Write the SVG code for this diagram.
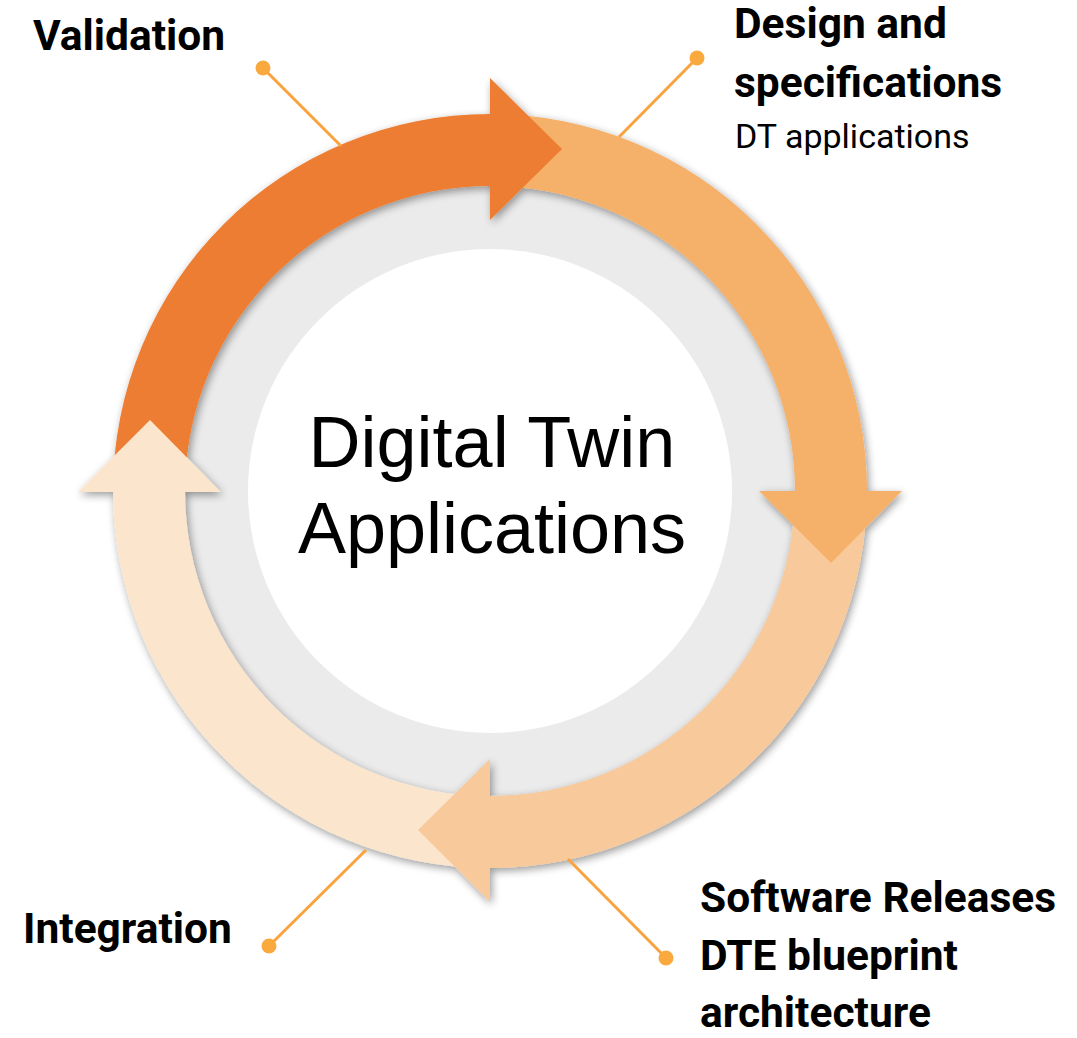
<svg xmlns="http://www.w3.org/2000/svg" width="1077" height="1038" viewBox="0 0 1077 1038">
  <defs>
    <filter id="ringShadow" x="-20%" y="-20%" width="140%" height="140%">
      <feGaussianBlur in="SourceAlpha" stdDeviation="4"/>
      <feOffset dx="2" dy="3" result="b"/>
      <feComponentTransfer><feFuncA type="linear" slope="0.4"/></feComponentTransfer>
      <feMerge><feMergeNode/><feMergeNode in="SourceGraphic"/></feMerge>
    </filter>
  </defs>
  <style>
    .lbl { font-family: Roboto, "Liberation Sans", sans-serif; font-weight: 700; font-size: 42.5px; fill: #000; }
    .sub { font-family: Roboto, "Liberation Sans", sans-serif; font-weight: 400; font-size: 34px; fill: #000; }
    .core { font-family: "Liberation Sans", Arial, sans-serif; font-size: 72px; fill: #000; }
    .lead { stroke: #FAA33E; stroke-width: 3; fill: none; }
    .dot { fill: #FAA93F; }
    .s1 { fill: #ED7D31; }
    .s2 { fill: #F5B16B; }
    .s3 { fill: #F8C99A; }
    .s4 { fill: #FBE5CD; }
  </style>

  <rect width="1077" height="1038" fill="#fff"/>

  <!-- hub -->
  <g id="hub">
    <circle cx="490" cy="491" r="310" fill="#EBEBEB"/>
    <circle cx="490" cy="491" r="242" fill="#fff"/>
    <text class="core" x="492" y="467" text-anchor="middle">Digital Twin</text>
    <text class="core" x="492" y="553" text-anchor="middle">Applications</text>
  </g>

  <!-- cycle ring: arc bodies first, then arrowheads on top -->
  <g id="cycle" filter="url(#ringShadow)">
    <path class="s1" d="M113,491 A377,377 0 0 1 490,114 L490,186 A305,305 0 0 0 185,491 Z"/>
    <path class="s2" d="M490,114 A377,377 0 0 1 867,491 L795,491 A305,305 0 0 0 490,186 Z"/>
    <path class="s3" d="M867,491 A377,377 0 0 1 490,868 L490,796 A305,305 0 0 0 795,491 Z"/>
    <path class="s4" d="M490,868 A377,377 0 0 1 113,491 L185,491 A305,305 0 0 0 490,796 Z"/>
    <polygon class="s1" points="490,78 562,149 490,220"/>
    <polygon class="s2" points="759,491 902,491 831,563"/>
    <polygon class="s3" points="490,759 490,902 418,830"/>
    <polygon class="s4" points="78,492 221,492 150,420"/>
  </g>

  <!-- leader lines -->
  <g id="connectors">
    <line class="lead" x1="263" y1="68" x2="341" y2="146"/>
    <circle class="dot" cx="263" cy="68" r="7.5"/>
    <line class="lead" x1="697" y1="58" x2="619" y2="137"/>
    <circle class="dot" cx="697" cy="58" r="7.5"/>
    <line class="lead" x1="269" y1="946" x2="366" y2="850"/>
    <circle class="dot" cx="269" cy="946" r="7.5"/>
    <line class="lead" x1="666" y1="958" x2="568" y2="859"/>
    <circle class="dot" cx="666" cy="958" r="7.5"/>
  </g>

  <!-- stage labels -->
  <g id="validation">
    <text class="lbl" x="33" y="50">Validation</text>
  </g>
  <g id="design">
    <text class="lbl" x="734" y="38">Design and</text>
    <text class="lbl" x="734" y="97">specifications</text>
    <text class="sub" x="735" y="148">DT applications</text>
  </g>
  <g id="integration">
    <text class="lbl" x="23" y="943">Integration</text>
  </g>
  <g id="software">
    <text class="lbl" x="700" y="912">Software Releases</text>
    <text class="lbl" x="700" y="970">DTE blueprint</text>
    <text class="lbl" x="700" y="1027">architecture</text>
  </g>
</svg>
